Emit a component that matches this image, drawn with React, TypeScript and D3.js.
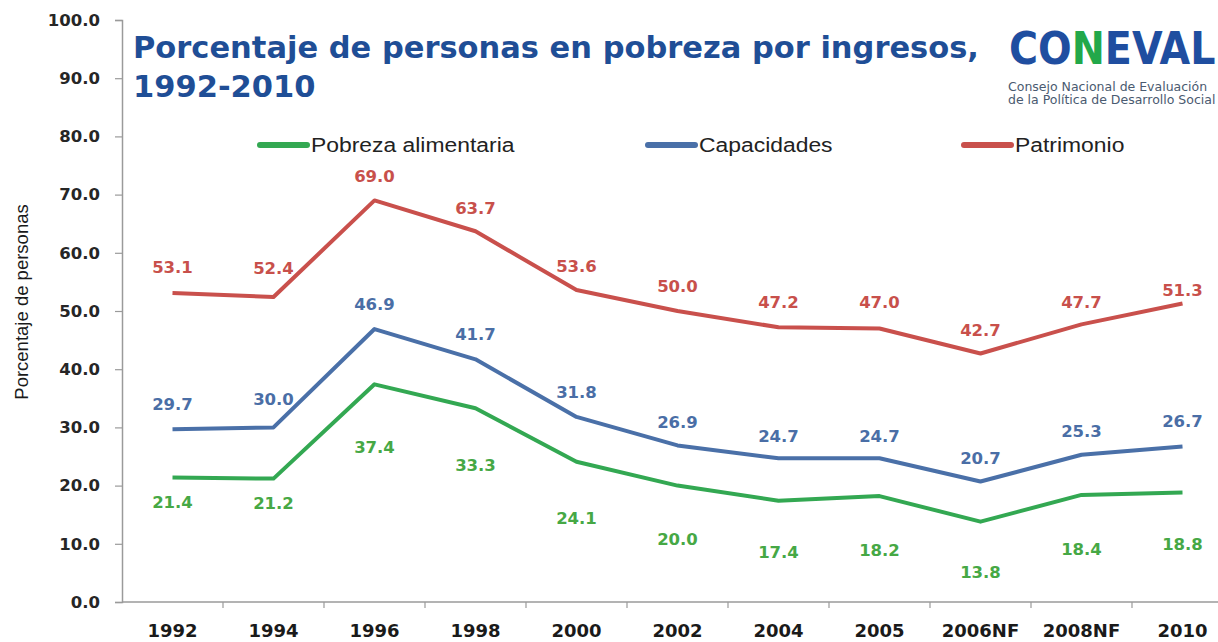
import React, { useEffect, useRef } from "react";
import * as d3 from "d3";

const categories = ["1992", "1994", "1996", "1998", "2000", "2002", "2004", "2005", "2006NF", "2008NF", "2010"];
const alimentaria = [21.4, 21.2, 37.4, 33.3, 24.1, 20.0, 17.4, 18.2, 13.8, 18.4, 18.8];
const capacidades = [29.7, 30.0, 46.9, 41.7, 31.8, 26.9, 24.7, 24.7, 20.7, 25.3, 26.7];
const patrimonio = [53.1, 52.4, 69.0, 63.7, 53.6, 50.0, 47.2, 47.0, 42.7, 47.7, 51.3];
const yTicks = [0, 10, 20, 30, 40, 50, 60, 70, 80, 90, 100];

// label vertical offsets (layout, px)
const greenLabelDy = [25, 25, 63, 57, 57, 54, 52, 54, 51, 55, 52];
const blueLabelDy = [-25, -28, -25, -25, -24, -23, -22, -22, -23, -23, -25];
const redLabelDy = [-25, -29, -24, -23, -24, -25, -25, -26, -23, -22, -13];

const GREEN = "#33a852";
const BLUE = "#4a70a8";
const RED = "#c9504c";
const GREEN_T = "#46a845";
const BLUE_T = "#4a6ea6";
const RED_T = "#c8504b";

export default function App() {
  const ref = useRef<SVGSVGElement>(null);
  useEffect(() => {
    const svg = d3.select(ref.current);
    svg.selectAll("*").remove();
    const left = 122;
    const bw = 101;
    const x = d3.scaleBand<string>().domain(categories).range([left, left + bw * categories.length]).padding(0);
    const y = d3.scaleLinear().domain([0, 100]).range([602, 20]);
    const cx = (c: string) => (x(c) as number) + x.bandwidth() / 2;

    // Y axis
    const yAxis = d3.axisLeft(y).tickValues(yTicks).tickSize(7).tickPadding(15).tickFormat((d) => (d as number).toFixed(1));
    const gy = svg.append("g").attr("transform", `translate(${left},0)`).call(yAxis);
    gy.select(".domain").attr("stroke", "#9a9a9a").attr("stroke-width", 1.5);
    gy.selectAll(".tick line").attr("stroke", "#9a9a9a").attr("stroke-width", 1.2);
    gy.selectAll(".tick text")
      .attr("font-family", "DejaVu Sans")
      .attr("font-weight", "bold")
      .attr("font-size", 16.5)
      .attr("fill", "#262626");

    // X axis
    const gx = svg.append("g");
    gx.append("line").attr("x1", left).attr("x2", 1218).attr("y1", y(0)).attr("y2", y(0)).attr("stroke", "#9a9a9a").attr("stroke-width", 1.5);
    categories.forEach((c) => {
      const b = (x(c) as number) + bw;
      gx.append("line").attr("x1", b).attr("x2", b).attr("y1", y(0)).attr("y2", y(0) + 6).attr("stroke", "#9a9a9a").attr("stroke-width", 1.2);
      gx.append("text")
        .attr("x", cx(c))
        .attr("y", 630)
        .attr("text-anchor", "middle")
        .attr("dominant-baseline", "central")
        .attr("font-family", "DejaVu Sans")
        .attr("font-weight", "bold")
        .attr("font-size", 18)
        .attr("fill", "#1a1a1a")
        .text(c);
    });

    // Y label
    svg.append("text")
      .attr("transform", `translate(21,302) rotate(-90)`)
      .attr("text-anchor", "middle")
      .attr("dominant-baseline", "central")
      .attr("font-family", "Liberation Sans")
      .attr("font-size", 18.5)
      .attr("fill", "#1a1a1a")
      .text("Porcentaje de personas");

    const line = d3.line<number>().x((_, i) => cx(categories[i])).y((d) => y(d));
    const series = [
      { data: patrimonio, color: RED, tcolor: RED_T, dy: redLabelDy },
      { data: capacidades, color: BLUE, tcolor: BLUE_T, dy: blueLabelDy },
      { data: alimentaria, color: GREEN, tcolor: GREEN_T, dy: greenLabelDy },
    ];
    series.forEach((s) => {
      svg.append("path").attr("d", line(s.data) as string).attr("fill", "none").attr("stroke", s.color).attr("stroke-width", 4).attr("stroke-linejoin", "round");
    });
    series.forEach((s) => {
      s.data.forEach((v, i) => {
        svg.append("text")
          .attr("x", cx(categories[i]))
          .attr("y", y(v) + s.dy[i])
          .attr("text-anchor", "middle")
          .attr("dominant-baseline", "central")
          .attr("font-family", "DejaVu Sans")
          .attr("font-weight", "bold")
          .attr("font-size", 16.5)
          .attr("fill", s.tcolor)
          .text(v.toFixed(1));
      });
    });

    // Legend
    const legend = [
      { name: "Pobreza alimentaria", color: GREEN, x: 257 },
      { name: "Capacidades", color: BLUE, x: 645 },
      { name: "Patrimonio", color: RED, x: 961 },
    ];
    legend.forEach((l) => {
      svg.append("line").attr("x1", l.x + 3).attr("x2", l.x + 50).attr("y1", 145).attr("y2", 145).attr("stroke", l.color).attr("stroke-width", 6).attr("stroke-linecap", "round");
      svg.append("text")
        .attr("transform", `translate(${l.x + 54},145) scale(1.09,1)`)
        .attr("dominant-baseline", "central")
        .attr("font-family", "Liberation Sans")
        .attr("font-size", 21)
        .attr("fill", "#222")
        .text(l.name);
    });

    // Title
    const title = svg.append("text").attr("font-family", "DejaVu Sans").attr("font-weight", "bold").attr("font-size", 30.5).attr("fill", "#1f4e96");
    title.append("tspan").attr("x", 133).attr("y", 58).text("Porcentaje de personas en pobreza por ingresos,");
    title.append("tspan").attr("x", 133).attr("y", 97).text("1992-2010");

    // Logo
    const logo = svg.append("text").attr("font-family", "DejaVu Sans Condensed").attr("font-weight", "bold").attr("font-size", 44).attr("transform", "translate(1009,64)");
    logo.append("tspan").attr("fill", "#1f4ea0").text("CO");
    logo.append("tspan").attr("fill", "#22a84a").text("N");
    logo.append("tspan").attr("fill", "#1f4ea0").text("EVAL");
    const sub = svg.append("text").attr("font-family", "DejaVu Sans").attr("font-size", 12.5).attr("fill", "#4a5a70");
    sub.append("tspan").attr("x", 1008).attr("y", 91).text("Consejo Nacional de Evaluación");
    sub.append("tspan").attr("x", 1008).attr("y", 104).text("de la Política de Desarrollo Social");
  }, []);

  return (
    <svg
      ref={ref}
      width={1218}
      height={642}
      style={{ position: "absolute", left: 0, top: 0, background: "#fff" }}
    />
  );
}
